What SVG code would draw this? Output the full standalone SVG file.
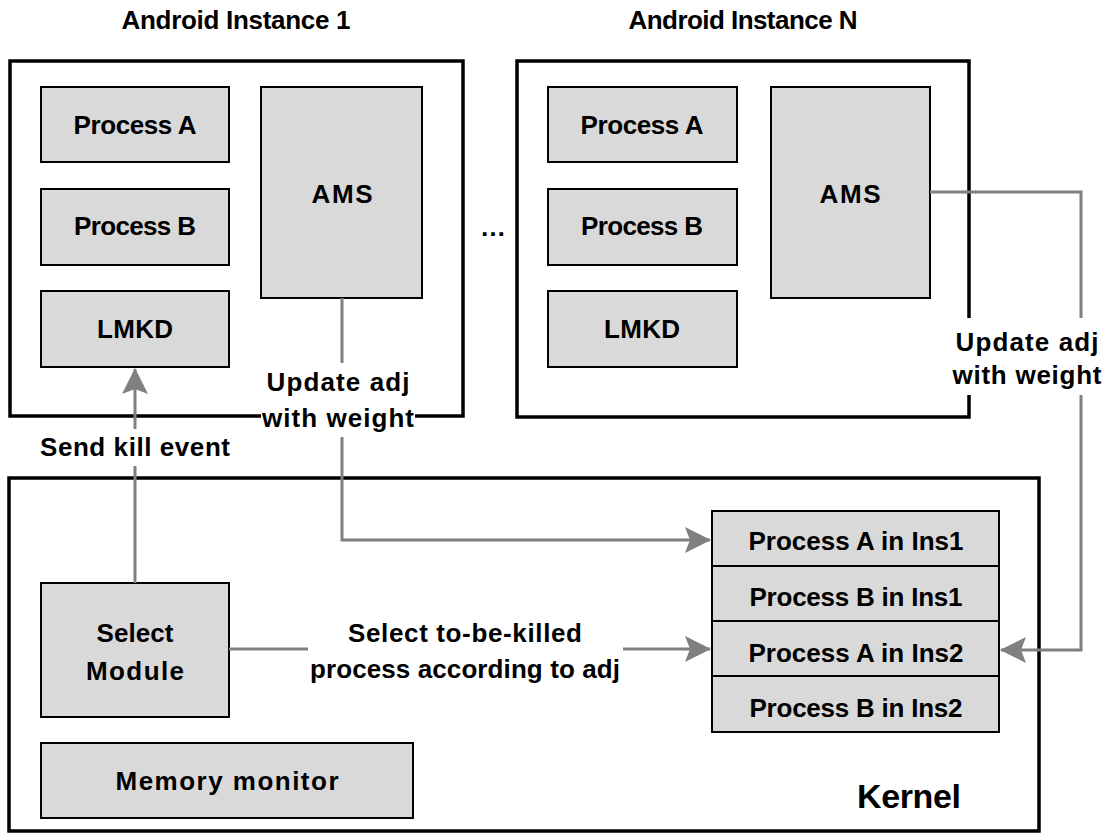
<svg xmlns="http://www.w3.org/2000/svg" width="1105" height="833" viewBox="0 0 1105 833">
<style>
text{font-family:"Liberation Sans",Arial,sans-serif;font-weight:bold;font-size:26px;fill:#000;text-anchor:middle}
.outer{fill:#fff;stroke:#000;stroke-width:3.5}
.box{fill:#d9d9d9;stroke:#000;stroke-width:2}
.conn{fill:none;stroke:#808080;stroke-width:3}
.bg{fill:#fff;stroke:none}
</style>
<defs>
<marker id="arr" markerUnits="userSpaceOnUse" markerWidth="26" markerHeight="26" viewBox="0 0 26 26" refX="25" refY="13" orient="auto">
<path d="M0,0 L26,13 L0,26 L5,13 z" fill="#808080"/>
</marker>
</defs>
<rect width="1105" height="833" fill="#fff"/>

<g id="instance1">
<rect class="outer" x="10" y="61" width="453" height="355"/>
<text x="236" y="29" textLength="229">Android Instance 1</text>
</g>
<g id="instanceN">
<rect class="outer" x="517" y="61" width="452" height="356"/>
<text x="743" y="29" textLength="229">Android Instance N</text>
</g>
<g id="kernel">
<rect class="outer" x="9" y="478" width="1030" height="353"/>
<text x="909" y="808" style="font-size:34px" textLength="104">Kernel</text>
</g>
<g id="dots"><text x="493" y="236">…</text></g>

<g id="i1-procA"><rect class="box" x="41" y="87" width="188" height="75"/><text x="135" y="134" textLength="123">Process A</text></g>
<g id="i1-procB"><rect class="box" x="41" y="189" width="188" height="76"/><text x="135" y="235" textLength="122">Process B</text></g>
<g id="i1-lmkd"><rect class="box" x="41" y="291" width="188" height="76"/><text x="135" y="338" textLength="76">LMKD</text></g>
<g id="i1-ams"><rect class="box" x="261" y="87" width="161" height="211"/><text x="342" y="203" textLength="61">AMS</text></g>

<g id="iN-procA"><rect class="box" x="548" y="87" width="189" height="75"/><text x="642" y="134" textLength="123">Process A</text></g>
<g id="iN-procB"><rect class="box" x="548" y="189" width="189" height="76"/><text x="642" y="235" textLength="122">Process B</text></g>
<g id="iN-lmkd"><rect class="box" x="548" y="291" width="189" height="76"/><text x="642" y="338" textLength="76">LMKD</text></g>
<g id="iN-ams"><rect class="box" x="771" y="87" width="159" height="211"/><text x="850" y="203" textLength="61">AMS</text></g>

<g id="select"><rect class="box" x="41" y="583" width="188" height="134"/><text x="135" y="642" textLength="77">Select</text><text x="135" y="680" textLength="98">Module</text></g>
<g id="memmon"><rect class="box" x="41" y="743" width="372" height="75"/><text x="227" y="790" textLength="223">Memory monitor</text></g>

<g id="table">
<rect class="box" x="712" y="511" width="287" height="55"/><text x="856" y="550" textLength="215">Process A in Ins1</text>
<rect class="box" x="712" y="566" width="287" height="55"/><text x="856" y="606" textLength="213">Process B in Ins1</text>
<rect class="box" x="712" y="621" width="287" height="55"/><text x="856" y="662" textLength="215">Process A in Ins2</text>
<rect class="box" x="712" y="676" width="287" height="56"/><text x="856" y="717" textLength="213">Process B in Ins2</text>
</g>

<g id="connectors">
<path class="conn" d="M135,583 V369" marker-end="url(#arr)"/>
<path class="conn" d="M342,298 V540 H710" marker-end="url(#arr)"/>
<path class="conn" d="M229,649 H710" marker-end="url(#arr)"/>
<path class="conn" d="M930,192 H1081 V650 H1001" marker-end="url(#arr)"/>
</g>

<g id="labels">
<rect class="bg" x="40" y="429" width="192" height="37"/>
<text x="135" y="456" textLength="190">Send kill event</text>
<rect class="bg" x="261" y="363" width="154" height="74"/>
<text x="338" y="391" textLength="143">Update adj</text>
<text x="338" y="427" textLength="152">with weight</text>
<rect class="bg" x="951" y="318" width="154" height="77"/>
<text x="1027" y="351" textLength="143">Update adj</text>
<text x="1027" y="384" textLength="149">with weight</text>
<rect class="bg" x="308" y="612" width="315" height="76"/>
<text x="465" y="642" textLength="234">Select to-be-killed</text>
<text x="465" y="678" textLength="310">process according to adj</text>
</g>
</svg>
